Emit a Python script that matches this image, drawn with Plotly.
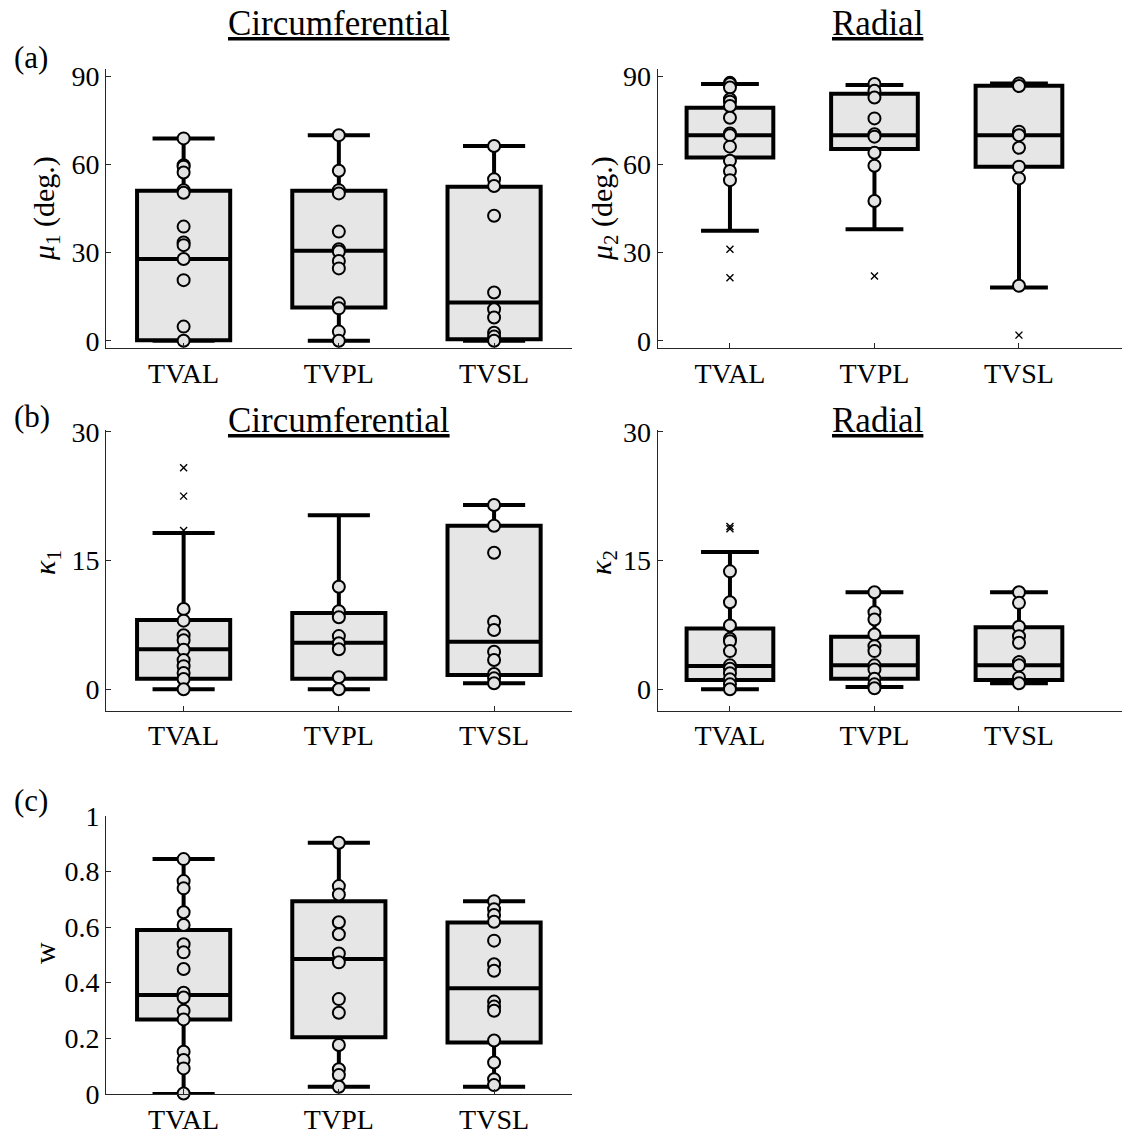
import plotly.graph_objects as go

W, H = 1122, 1135
FONT = "Liberation Serif, Times New Roman, serif"

categories = ["TVAL", "TVPL", "TVSL"]

# ---- mu_1 (circumferential) ----
mu1_q1 = [0.2, 11.3, 0.5]
mu1_med = [27.8, 30.6, 13.0]
mu1_q3 = [51.0, 51.0, 52.4]
mu1_lo = [0.0, 0.0, 0.0]
mu1_hi = [68.8, 69.9, 66.2]
mu1_tval = [68.8, 59.7, 59.2, 57.2, 51.2, 50.3, 38.8, 33.4, 32.5, 27.8, 20.6, 4.8, 0.0]
mu1_tvpl = [69.9, 57.8, 51.2, 50.1, 37.1, 31.1, 30.3, 27.1, 24.6, 12.7, 11.0, 3.1, 0.0]
mu1_tvsl = [66.2, 54.9, 52.6, 42.5, 16.4, 10.7, 7.9, 2.7, 1.4, 0.0]
mu1_out = [[], [], []]

# ---- mu_2 (radial) ----
mu2_q1 = [62.3, 65.2, 59.2]
mu2_med = [69.9, 69.9, 69.9]
mu2_q3 = [79.2, 84.0, 86.7]
mu2_lo = [37.4, 37.9, 18.1]
mu2_hi = [87.3, 87.0, 87.5]
mu2_tval = [87.7, 87.3, 86.1, 82.1, 81.3, 79.8, 75.8, 70.5, 69.9, 66.0, 61.2, 57.7, 54.6]
mu2_tvpl = [87.3, 85.0, 82.7, 75.6, 70.2, 69.4, 63.9, 59.5, 47.5]
mu2_tvsl = [87.5, 86.6, 71.1, 69.9, 65.6, 59.2, 55.2, 18.7]
mu2_out = [[31.1, 21.4], [22.0], [1.9]]

# ---- kappa_1 (circumferential) ----
k1_q1 = [1.24, 1.24, 1.67]
k1_med = [4.66, 5.43, 5.55]
k1_q3 = [8.07, 8.9, 19.05]
k1_lo = [0.0, 0.0, 0.70]
k1_hi = [18.2, 20.26, 21.46]
k1_tval = [9.35, 8.0, 6.3, 5.7, 4.6, 3.4, 2.7, 1.9, 1.2, 0.0]
k1_tvpl = [11.95, 9.1, 8.4, 6.2, 5.36, 4.66, 1.4, 0.0]
k1_tvsl = [21.46, 19.05, 15.91, 7.87, 6.91, 4.38, 3.41, 1.78, 1.28, 0.70]
k1_out = [[25.8, 22.5, 18.5], [], []]

# ---- kappa_2 (radial) ----
k2_q1 = [1.08, 1.24, 1.08]
k2_med = [2.71, 2.79, 2.79]
k2_q3 = [7.08, 6.12, 7.24]
k2_lo = [0.0, 0.27, 0.70]
k2_hi = [16.0, 11.3, 11.3]
k2_tval = [13.74, 10.14, 7.43, 5.88, 5.6, 4.45, 2.79, 2.4, 1.86, 1.16, 0.58, 0.0]
k2_tvpl = [11.3, 8.98, 8.13, 6.39, 5.03, 4.45, 2.79, 2.32, 1.24, 0.58, 0.12]
k2_tvsl = [11.3, 10.07, 7.28, 6.19, 5.42, 3.17, 2.79, 1.36, 0.70]
k2_out = [[18.97, 18.7], [], []]

# ---- w (weight) ----
w_q1 = [0.268, 0.204, 0.185]
w_med = [0.356, 0.485, 0.380]
w_q3 = [0.589, 0.693, 0.616]
w_lo = [0.0, 0.026, 0.026]
w_hi = [0.844, 0.903, 0.693]
w_tval = [0.844, 0.765, 0.739, 0.653, 0.607, 0.538, 0.509, 0.449, 0.364, 0.347,
          0.299, 0.268, 0.152, 0.122, 0.092, 0.002]
w_tvpl = [0.903, 0.747, 0.717, 0.617, 0.574, 0.505, 0.473, 0.341, 0.292, 0.176,
          0.089, 0.068, 0.026]
w_tvsl = [0.693, 0.664, 0.643, 0.619, 0.551, 0.466, 0.443, 0.332, 0.314, 0.299,
          0.192, 0.113, 0.053, 0.032]
w_out = [[], [], []]

mu_ticks = [0, 30, 60, 90]
k_ticks = [0, 15, 30]
w_ticks = [0, 0.2, 0.4, 0.6, 0.8, 1]
w_ticktext = ["0", "0.2", "0.4", "0.6", "0.8", "1"]


def px_x(p):
    return p / W


def px_y(p):
    return 1 - p / H


fig = go.Figure()

panels = [
    # (axis suffix, box statistics, sample points, outliers)
    ("", (mu1_q1, mu1_med, mu1_q3, mu1_lo, mu1_hi), (mu1_tval, mu1_tvpl, mu1_tvsl), mu1_out),
    ("2", (mu2_q1, mu2_med, mu2_q3, mu2_lo, mu2_hi), (mu2_tval, mu2_tvpl, mu2_tvsl), mu2_out),
    ("3", (k1_q1, k1_med, k1_q3, k1_lo, k1_hi), (k1_tval, k1_tvpl, k1_tvsl), k1_out),
    ("4", (k2_q1, k2_med, k2_q3, k2_lo, k2_hi), (k2_tval, k2_tvpl, k2_tvsl), k2_out),
    ("5", (w_q1, w_med, w_q3, w_lo, w_hi), (w_tval, w_tvpl, w_tvsl), w_out),
]

xpos = [1, 2, 3]

for suf, (q1, med, q3, lo, hi), pts, outs in panels:
    xa, ya = "x" + suf, "y" + suf
    fig.add_trace(go.Box(
        x=xpos, q1=q1, median=med, q3=q3, lowerfence=lo, upperfence=hi,
        width=0.6, whiskerwidth=0.667, boxpoints=False,
        fillcolor="#e6e6e6", line=dict(color="black", width=4),
        xaxis=xa, yaxis=ya, showlegend=False, hoverinfo="skip",
    ))
for suf, stats, pts, outs in panels:
    xa, ya = "x" + suf, "y" + suf
    ox, oy = [], []
    for i, vals in enumerate(outs):
        ox += [xpos[i]] * len(vals)
        oy += list(vals)
    if oy:
        fig.add_trace(go.Scatter(
            x=ox, y=oy, mode="markers", cliponaxis=False,
            marker=dict(symbol="x-thin", size=7, color="black",
                        line=dict(color="black", width=1.4)),
            xaxis=xa, yaxis=ya, showlegend=False, hoverinfo="skip",
        ))
    px_, py_ = [], []
    for i, vals in enumerate(pts):
        px_ += [xpos[i]] * len(vals)
        py_ += list(vals)
    fig.add_trace(go.Scatter(
        x=px_, y=py_, mode="markers", cliponaxis=False,
        marker=dict(symbol="circle", size=12, color="#e3e3e3",
                    line=dict(color="black", width=2)),
        xaxis=xa, yaxis=ya, showlegend=False, hoverinfo="skip",
    ))

AX_COLOR = "#262626"
tickfont = dict(family=FONT, size=28, color="black")


def xaxis(domain, rng, anchor):
    return dict(domain=domain, range=rng, anchor=anchor, showline=True,
                linecolor=AX_COLOR, linewidth=1, ticks="inside", ticklen=5,
                tickcolor=AX_COLOR, tickvals=xpos, ticktext=categories,
                automargin=False,
                showgrid=False, zeroline=False, tickfont=tickfont, fixedrange=True)


def yaxis(domain, rng, anchor, tickvals, ticktext=None):
    d = dict(domain=domain, range=rng, anchor=anchor, showline=True,
             linecolor=AX_COLOR, linewidth=1, ticks="inside", ticklen=5,
             tickcolor=AX_COLOR, tickvals=tickvals, showgrid=False,
             automargin=False,
             zeroline=False, tickfont=tickfont, fixedrange=True)
    if ticktext is not None:
        d["ticktext"] = ticktext
    return d


left_dom = [px_x(106), px_x(571.7)]
right_dom = [px_x(657.7), 1.0]
row_a = [px_y(348.3), px_y(69.3)]
row_b = [px_y(710.7), px_y(430)]
row_c = [px_y(1094), px_y(815.7)]

fig.update_layout(
    width=W, height=H,
    margin=dict(l=0, r=0, t=0, b=0, autoexpand=False),
    paper_bgcolor="white", plot_bgcolor="white",
    font=dict(family=FONT, color="black"),
    xaxis=xaxis(left_dom, [0.5, 3.5], "y"),
    yaxis=yaxis(row_a, [-2.58, 92.3], "x", mu_ticks),
    xaxis2=xaxis(right_dom, [0.5, 3.713], "y2"),
    yaxis2=yaxis(row_a, [-2.58, 92.3], "x2", mu_ticks),
    xaxis3=xaxis(left_dom, [0.5, 3.5], "y3"),
    yaxis3=yaxis(row_b, [-2.49, 30.2], "x3", k_ticks),
    xaxis4=xaxis(right_dom, [0.5, 3.713], "y4"),
    yaxis4=yaxis(row_b, [-2.49, 30.2], "x4", k_ticks),
    xaxis5=xaxis(left_dom, [0.5, 3.5], "y5"),
    yaxis5=yaxis(row_c, [0, 1], "x5", w_ticks, w_ticktext),
)


def note(text, x, y, size, angle=0):
    fig.add_annotation(
        text=text, x=px_x(x), y=px_y(y), xref="paper", yref="paper",
        xanchor="center", yanchor="middle", showarrow=False, textangle=angle,
        font=dict(family=FONT, size=size, color="black"),
    )


# Column titles
note("<u>Circumferential</u>", 339, 24, 35)
note("<u>Radial</u>", 878, 24, 35)
note("<u>Circumferential</u>", 339, 420, 35)
note("<u>Radial</u>", 878, 420, 35)

# Panel letters
note("(a)", 31, 57, 31)
note("(b)", 32, 416, 31)
note("(c)", 31, 800, 31)

# Y-axis labels
note("<i>μ</i><sub>1</sub> (deg.)", 46, 209, 30, -90)
note("<i>μ</i><sub>2</sub> (deg.)", 604, 209, 30, -90)
note("<i>κ</i><sub>1</sub>", 47, 563, 30, -90)
note("<i>κ</i><sub>2</sub>", 603, 563, 30, -90)
note("w", 44, 953, 30, -90)

fig.write_html("out.html")
